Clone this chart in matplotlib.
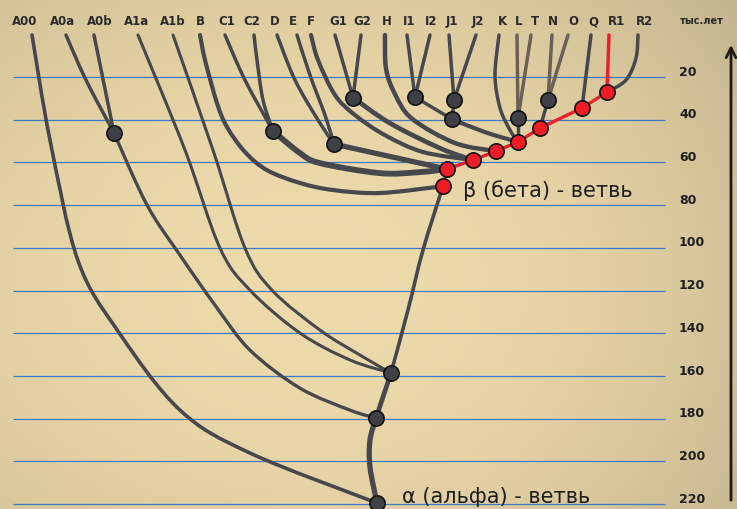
import matplotlib
matplotlib.use("Agg")
import matplotlib.pyplot as plt
from matplotlib.path import Path
from matplotlib.patches import PathPatch
import numpy as np

# ---- data: haplogroup tree (x = column, age = thousand years ago) ----
LEAF_NAMES = ["A00", "A0a", "A0b", "A1a", "A1b", "B", "C1", "C2", "D", "E", "F",
              "G1", "G2", "H", "I1", "I2", "J1", "J2", "K", "L", "T", "N", "O",
              "Q", "R1", "R2"]
LABEL_X = [25, 63, 100, 137, 173, 200, 227, 252, 275, 293, 311, 338, 362, 387,
           409, 431, 452, 478, 502, 519, 535, 553, 573, 593, 617, 645]
LEAF_X = [32, 66, 94, 138, 173, 200, 225, 254, 277, 297, 311, 335, 361, 385,
          407, 430, 449, 476, 499, 517, 531, 552, 568, 591, 609, 638]
LEAF_PARENT = ["root", "A0", "A0", "A1", "A1", "BT", "C", "C", "DE", "DE", "Fn",
               "G", "G", "GHIJK", "I", "I", "J", "J", "IJK", "LT", "LT", "NO",
               "NO", "P", "R", "R"]
LEAF_AGE = 0.3

NODE_X = {"root": 377, "A": 376, "A1": 391, "A0": 114, "BT": 443, "CT": 447,
          "Fn": 473, "GHIJK": 496, "IJK": 518, "K2": 540, "P": 582, "R": 607,
          "C": 273, "DE": 334, "G": 353, "I": 415, "J": 454, "IJ": 452,
          "LT": 518, "NO": 548}
NODE_AGE = {"root": 219.5, "A": 179.7, "A1": 158.6, "A0": 46.2, "BT": 71.1,
            "CT": 63.1, "Fn": 58.9, "GHIJK": 54.7, "IJK": 50.4, "K2": 43.9,
            "P": 34.5, "R": 27.0, "C": 45.3, "DE": 51.4, "G": 29.6, "I": 29.4,
            "J": 30.8, "IJ": 39.7, "LT": 39.2, "NO": 30.8}
RED_NODES = ["BT", "CT", "Fn", "GHIJK", "IJK", "K2", "P", "R"]

# internal branches: child -> parent
INNER_EDGES = [("A", "root"), ("A1", "A"), ("A0", "A"), ("BT", "A1"),
               ("C", "CT"), ("DE", "CT"), ("G", "Fn"), ("IJ", "IJK"),
               ("I", "IJ"), ("J", "IJ"), ("LT", "IJK"), ("NO", "K2")]
RED_CHAIN = ["BT", "CT", "Fn", "GHIJK", "IJK", "K2", "P", "R"]

# intermediate points along the drawn curves (x, age)
BENDS = {
    "A00": [(50, 49.5), (78, 106.0), (118, 139.0), (180, 176.0), (250, 196.1)],
    "A0a": [(86, 21.4)],
    "A1a": [(185, 54.2), (220, 100.1), (250, 119.8), (300, 139.9), (350, 152.5)],
    "A1b": [(213, 54.2), (245, 100.1), (272, 119.8), (320, 138.5), (360, 150.2)],
    "B": [(205, 12.0), (217, 32.2), (227, 43.4), (245, 55.1), (267, 63.6),
          (300, 69.6), (333, 72.9), (380, 74.3)],
    "C1": [(245, 21.4)],
    "C2": [(257, 12.0), (263, 30.8)],
    "D": [(295, 21.4), (318, 40.1)],
    "E": [(310, 19.1), (325, 37.8)],
    "F": [(318, 12.0), (335, 28.4), (355, 37.8), (385, 47.2), (423, 55.1)],
    "H": [(386, 16.0), (395, 28.0), (412, 39.5), (455, 50.9)],
    "K": [(495, 19.1), (500, 34.5), (510, 44.8)],
    "R2": [(636, 11.1), (626, 21.4)],
    "A0>A": [(147, 79.9), (180, 103.4), (215, 126.8), (250, 147.9), (300, 165.7), (350, 176.0)],
    "C>CT": [(300, 55.6), (320, 60.3), (380, 65.0), (420, 64.5)],
    "G>Fn": [(390, 41.6), (440, 53.3)],
    "IJ>IJK": [(485, 45.8)],
    "BT>A1": [(423, 101.0), (408, 129.1)],
    "A>root": [(370, 190.0), (370, 202.7)],
}

AGE_TICKS = [20, 40, 60, 80, 100, 120, 140, 160, 180, 200, 220]

# ---- style ----
DARK = "#46484d"
PALE = "#6a6058"
RED = "#e8212a"
GRID = "#3d7bc4"
WIDTH = {"A00": 2.6, "A1a": 2.2, "A1b": 2.2, "B": 3.0, "F": 3.0, "H": 3.2,
         "C>CT": 4.2, "DE>CT": 3.8, "G>Fn": 3.4, "IJ>IJK": 3.0,
         "BT>A1": 2.6, "A1>A": 3.4, "A>root": 3.8, "A0>A": 2.4}
PALE_KEYS = ["L", "T", "N", "O"]

X_MAX = 737
AGE_TOP, AGE_BOTTOM = -16.1, 222.3


def smooth_path(pts):
    pts = np.asarray(pts, float)
    if len(pts) == 2:
        return Path(pts, [Path.MOVETO, Path.LINETO])
    ext = np.vstack([pts[0], pts, pts[-1]])
    verts, codes = [pts[0]], [Path.MOVETO]
    for i in range(len(pts) - 1):
        p0, p1, p2, p3 = ext[i], ext[i + 1], ext[i + 2], ext[i + 3]
        verts += [p1 + (p2 - p0) / 6, p2 - (p3 - p1) / 6, p2]
        codes += [Path.CURVE4] * 3
    return Path(verts, codes)


def draw_curve(ax, pts, key, color=DARK, z=2):
    lw = WIDTH.get(key, 2.5)
    ax.add_patch(PathPatch(smooth_path(pts), fill=False, edgecolor=color, lw=lw,
                           capstyle="round", joinstyle="round", zorder=z))


fig = plt.figure(figsize=(7.37, 5.09), dpi=100)
ax = fig.add_axes([0, 0, 1, 1])
ax.set_xlim(0, X_MAX)
ax.set_ylim(AGE_BOTTOM, AGE_TOP)
ax.axis("off")

# parchment background
yy, xx = np.mgrid[0:1:509j, 0:1:737j]
shade = 1 - 0.10 * ((xx - 0.45) ** 2 + (yy - 0.55) ** 2) * 2.2 - 0.05 * xx ** 4
base = np.array([238, 219, 172]) / 255
bg = np.clip(base[None, None, :] * shade[..., None], 0, 1)
ax.imshow(bg, extent=(0, X_MAX, AGE_BOTTOM, AGE_TOP), aspect="auto", zorder=0)

# age grid
ax.hlines(AGE_TICKS, 13, 665, color=GRID, lw=0.9, zorder=1)
for a in AGE_TICKS:
    ax.text(679, a - 2.3, f"{a}", fontsize=9, fontweight="bold", color="#1e1e1e",
            ha="left", va="center", zorder=5)
ax.text(680, -6.3, "тыс.лет", fontsize=7, fontweight="bold", color="#2a2a2a",
        ha="left", va="center", zorder=5)
ax.annotate("", xy=(731, 3.6), xytext=(731, 219.5),
            arrowprops=dict(arrowstyle="->,head_length=0.7,head_width=0.35",
                            lw=2.0, color="#1e1a16"), zorder=5)

# leaf branches
for name, lx, px, parent in zip(LEAF_NAMES, LABEL_X, LEAF_X, LEAF_PARENT):
    ax.text(lx, -5.8, name, fontsize=8.5, fontweight="bold", color="#2a2a2a",
            ha="center", va="center", zorder=5)
    pts = [(px, LEAF_AGE)] + BENDS.get(name, []) + [(NODE_X[parent], NODE_AGE[parent])]
    if name == "R1":
        draw_curve(ax, pts, name, color=RED, z=2.5)
    else:
        draw_curve(ax, pts, name, color=PALE if name in PALE_KEYS else DARK)

# inner branches
for child, parent in INNER_EDGES:
    key = f"{child}>{parent}"
    pts = ([(NODE_X[child], NODE_AGE[child])] + BENDS.get(key, []) +
           [(NODE_X[parent], NODE_AGE[parent])])
    draw_curve(ax, pts, key)

# red chain
ax.plot([NODE_X[n] for n in RED_CHAIN], [NODE_AGE[n] for n in RED_CHAIN],
        color=RED, lw=2.4, zorder=3, solid_capstyle="round")

# nodes
for n in NODE_X:
    red = n in RED_NODES
    ax.plot(NODE_X[n], NODE_AGE[n], "o", ms=11, mfc="#ee1c24" if red else "#3e4046",
            mec="#111111", mew=1.2, zorder=4)

ax.text(463, 73.2, "β (бета) - ветвь", fontsize=15, family="DejaVu Sans",
        color="#1e1e1e", ha="left", va="center", zorder=5)
ax.text(402, 216.5, "α (альфа) - ветвь", fontsize=15, family="DejaVu Sans",
        color="#1e1e1e", ha="left", va="center", zorder=5)

fig.savefig("out.png", dpi=100)
